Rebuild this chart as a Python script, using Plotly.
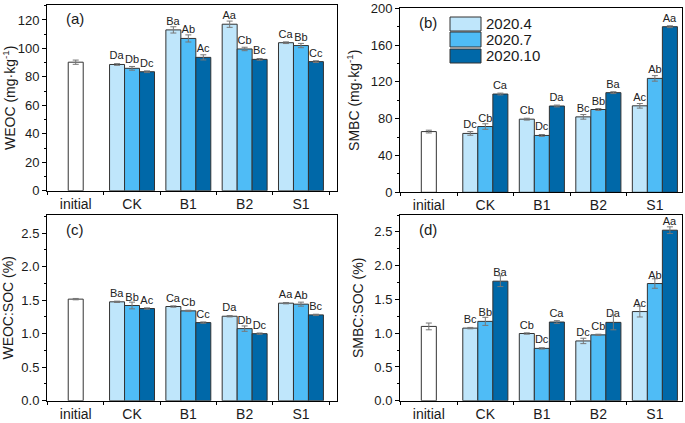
import plotly.graph_objects as go

categories = ["initial", "CK", "B1", "B2", "S1"]
groups = ["CK", "B1", "B2", "S1"]
series_names = ["2020.4", "2020.7", "2020.10"]
series_colors = ["#bfe6fb", "#4fbcf6", "#0068a8"]

# (a) WEOC
weoc_initial = [90.3]
weoc_initial_err = [1.5]
weoc = [[88.7, 113.0, 117.0, 104.0], [86.0, 107.0, 99.6, 102.0], [83.6, 93.7, 92.3, 90.7]]
weoc_err = [[0.6, 2.2, 2.2, 0.6], [1.3, 2.5, 1.2, 1.5], [0.6, 1.8, 0.6, 0.6]]
weoc_lbl = [["Da", "Ba", "Aa", "Ca"], ["Db", "Ab", "Cb", "Bb"], ["Dc", "Ac", "Bc", "Cc"]]

# (b) SMBC
smbc_initial = [66.0]
smbc_initial_err = [1.5]
smbc = [[64.0, 79.5, 82.0, 94.0], [71.5, 61.8, 90.0, 123.8], [106.8, 93.8, 108.3, 180.0]]
smbc_err = [[2.0, 1.0, 2.5, 2.5], [3.0, 1.0, 1.0, 3.0], [1.0, 1.0, 1.0, 1.0]]
smbc_lbl = [["Dc", "Cb", "Bc", "Ac"], ["Cb", "Dc", "Bb", "Ab"], ["Ca", "Da", "Ba", "Aa"]]

# (c) WEOC:SOC
wsoc_initial = [1.515]
wsoc_initial_err = [0.01]
wsoc = [[1.475, 1.405, 1.26, 1.455], [1.42, 1.34, 1.075, 1.44], [1.375, 1.165, 1.0, 1.28]]
wsoc_err = [[0.01, 0.01, 0.01, 0.01], [0.05, 0.01, 0.04, 0.03], [0.01, 0.01, 0.01, 0.01]]
wsoc_lbl = [["Ba", "Ca", "Da", "Aa"], ["Bb", "Cb", "Db", "Ab"], ["Ac", "Cc", "Dc", "Bc"]]

# (d) SMBC:SOC
msoc_initial = [1.10]
msoc_initial_err = [0.05]
msoc = [[1.075, 0.995, 0.885, 1.32], [1.175, 0.775, 0.975, 1.735], [1.77, 1.165, 1.16, 2.525]]
msoc_err = [[0.01, 0.01, 0.04, 0.08], [0.06, 0.01, 0.01, 0.07], [0.08, 0.02, 0.11, 0.05]]
msoc_lbl = [["Bc", "Cb", "Dc", "Ac"], ["Bb", "Dc", "Cb", "Ab"], ["Ba", "Ca", "Da", "Aa"]]

y_titles = ["WEOC (mg·kg<sup>-1</sup>)", "SMBC (mg·kg<sup>-1</sup>)", "WEOC:SOC (%)", "SMBC:SOC (%)"]
panel_tags = ["(a)", "(b)", "(c)", "(d)"]

W, H = 685, 423
FONT = "Arial, Liberation Sans, sans-serif"
OUT = "#333333"
ERRC = "#777777"
BW = 0.266

fig = go.Figure()

panels = [
    (weoc_initial, weoc_initial_err, weoc, weoc_err, weoc_lbl),
    (smbc_initial, smbc_initial_err, smbc, smbc_err, smbc_lbl),
    (wsoc_initial, wsoc_initial_err, wsoc, wsoc_err, wsoc_lbl),
    (msoc_initial, msoc_initial_err, msoc, msoc_err, msoc_lbl),
]

def px_x(p):
    return p / W

def px_y(p):
    return 1 - p / H

# pixel geometry of each panel (left, right, top, bottom)
geom = [(47, 337, 5, 190.7), (400, 682, 8.3, 192.3), (47, 337, 215, 400.7), (400, 682, 215, 400.7)]
yranges = [[0, 130.5], [0, 200], [0, 2.77], [0, 2.75]]
xranges = [[-0.51, 4.64], [-0.51, 4.48], [-0.51, 4.64], [-0.51, 4.48]]
ydticks = [20, 40, 0.5, 0.5]
tick_formats = ["d", "d", ".1f", ".1f"]

for k, (init, init_err, vals, errs, lbls) in enumerate(panels):
    xa = "x" if k == 0 else f"x{k+1}"
    ya = "y" if k == 0 else f"y{k+1}"
    fig.add_trace(go.Bar(
        x=[categories[0]], y=init, xaxis=xa, yaxis=ya,
        width=BW, offset=-BW / 2,
        marker=dict(color="white", line=dict(color=OUT, width=1)),
        error_y=dict(type="data", array=init_err, color=ERRC, thickness=1, width=3),
        showlegend=False, hoverinfo="skip",
    ))
    for i, name in enumerate(series_names):
        fig.add_trace(go.Bar(
            x=groups, y=vals[i], xaxis=xa, yaxis=ya, name=name,
            width=BW, offset=-1.5 * BW + i * BW,
            marker=dict(color=series_colors[i], line=dict(color=OUT, width=1)),
            error_y=dict(type="data", array=errs[i], color=ERRC, thickness=1, width=3),
            text=lbls[i], textposition="outside", constraintext="none", cliponaxis=False,
            textfont=dict(size=11, color="#222", family=FONT),
            showlegend=False,
        ))
    l, r, t, b = geom[k]
    axkey_x = "xaxis" if k == 0 else f"xaxis{k+1}"
    axkey_y = "yaxis" if k == 0 else f"yaxis{k+1}"
    fig.layout[axkey_x] = dict(
        domain=[px_x(l), px_x(r)], anchor=ya, type="category", automargin=False,
        categoryorder="array", categoryarray=categories, range=xranges[k],
        showline=True, linecolor="black", linewidth=1, mirror=True,
        ticks="outside", tickson="boundaries", ticklen=3, tickcolor="black",
        showgrid=False, zeroline=False,
        tickfont=dict(size=14, color="#1a1a1a", family=FONT),
    )
    fig.layout[axkey_y] = dict(
        domain=[px_y(b), px_y(t)], anchor=xa, range=yranges[k], automargin=False,
        dtick=ydticks[k], tick0=0, tickformat=tick_formats[k],
        showline=True, linecolor="black", linewidth=1, mirror=True,
        ticks="outside", ticklen=4, tickcolor="black",
        minor=dict(ticks="outside", ticklen=2, dtick=ydticks[k] / 2, tickcolor="black", showgrid=False),
        showgrid=False, zeroline=False,
        tickfont=dict(size=13, color="#1a1a1a", family=FONT),
        title=dict(text=y_titles[k], font=dict(size=14, color="#1a1a1a", family=FONT), standoff=7),
    )
    fig.add_annotation(
        text=panel_tags[k], xref="paper", yref="paper",
        x=px_x(l + 17), y=px_y(t + 14), xanchor="left", yanchor="middle",
        showarrow=False, font=dict(size=15, color="#1a1a1a", family=FONT),
    )

# legend drawn in panel (b) with large swatches
leg_x0, leg_x1 = 450, 481
leg_rows = [(17, 31), (32, 47), (49, 63)]
for i, name in enumerate(series_names):
    y0, y1 = leg_rows[i]
    fig.add_shape(type="rect", xref="paper", yref="paper",
                  x0=px_x(leg_x0), x1=px_x(leg_x1), y0=px_y(y1), y1=px_y(y0),
                  fillcolor=series_colors[i], line=dict(color=OUT, width=1))
    fig.add_annotation(text=name, xref="paper", yref="paper",
                       x=px_x(leg_x1 + 3), y=px_y((y0 + y1) / 2), xanchor="left", yanchor="middle",
                       showarrow=False, font=dict(size=15, color="#1a1a1a", family=FONT))

fig.update_layout(
    width=W, height=H, barmode="overlay",
    margin=dict(l=0, r=0, t=0, b=0, autoexpand=False),
    paper_bgcolor="white", plot_bgcolor="white",
    font=dict(family=FONT, color="#1a1a1a"),
    showlegend=False,
)

fig.write_html("out.html", config={"displayModeBar": False},
               post_script="document.body.style.margin='0';document.body.style.overflow='hidden';")
